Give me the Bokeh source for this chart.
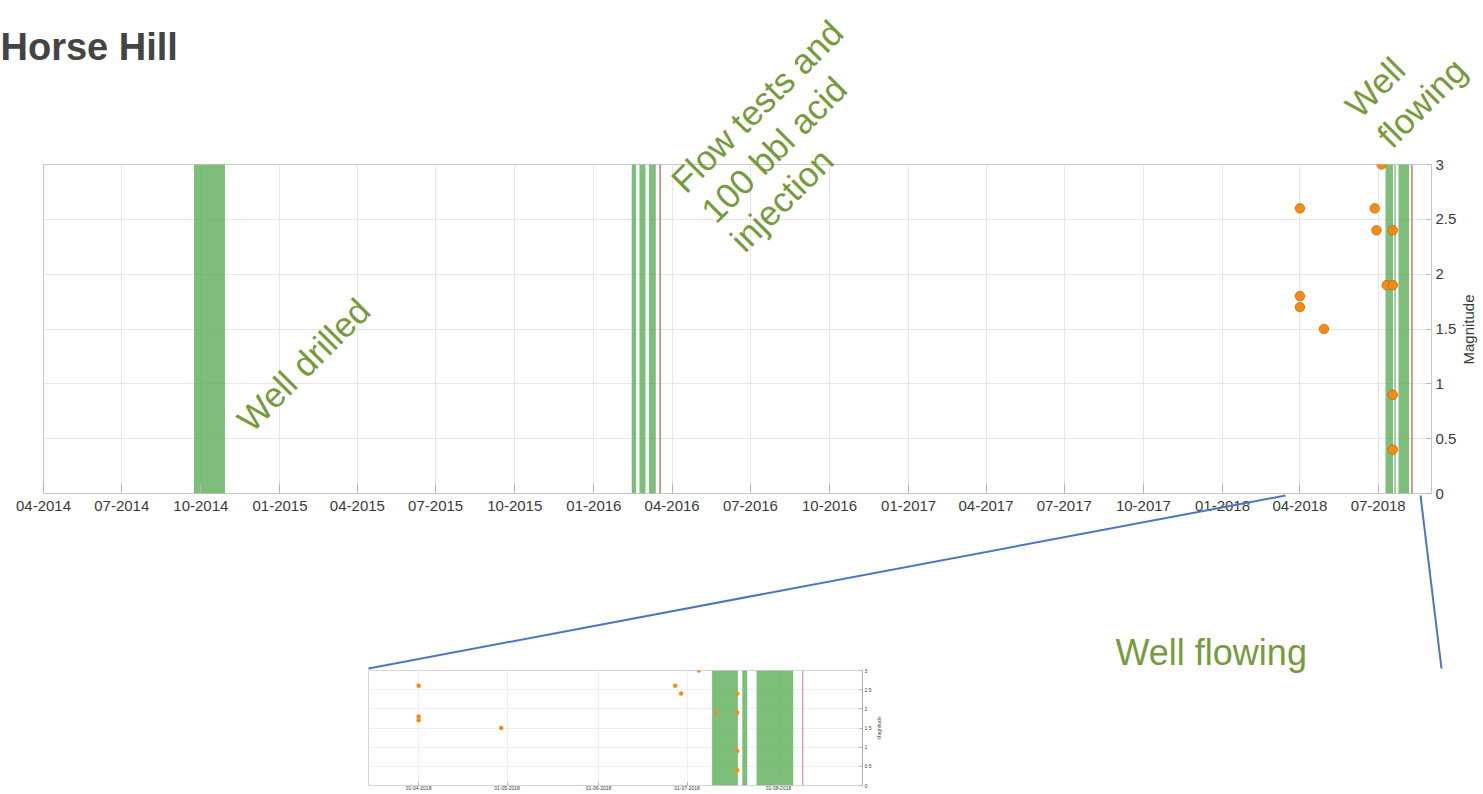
import math
import pandas as pd
from bokeh.plotting import figure
from bokeh.models import (FixedTicker, DatetimeTickFormatter, NumeralTickFormatter,
                          Range1d, ColumnDataSource, GridBox)
from bokeh.layouts import column
from bokeh.core.properties import value
from bokeh.embed import file_html
from bokeh.resources import INLINE

# ---------------- data ----------------
title_text = "Horse Hill"
activity_start = ["2014-09-23", "2016-02-14", "2016-02-23", "2016-03-05",
                  "2018-07-09 12:00", "2018-07-19 18:00", "2018-07-24 14:00"]
activity_end = ["2014-10-29", "2016-02-19", "2016-03-01", "2016-03-13",
                "2018-07-18 06:00", "2018-07-21 10:00", "2018-08-06"]
red_dates = ["2016-03-18", "2018-08-09 06:00"]
quake_dates = ["2018-04-01", "2018-04-01", "2018-04-01", "2018-04-29",
               "2018-06-27", "2018-06-29", "2018-07-05", "2018-07-11",
               "2018-07-18", "2018-07-18", "2018-07-18", "2018-07-18"]
quake_mag = [2.6, 1.8, 1.7, 1.5, 2.6, 2.4, 3.0, 1.9, 1.9, 2.4, 0.9, 0.4]
main_ticks = ["2014-04-01", "2014-07-01", "2014-10-01", "2015-01-01", "2015-04-01",
              "2015-07-01", "2015-10-01", "2016-01-01", "2016-04-01", "2016-07-01",
              "2016-10-01", "2017-01-01", "2017-04-01", "2017-07-01", "2017-10-01",
              "2018-01-01", "2018-04-01", "2018-07-01"]
inset_ticks = ["2018-04-01", "2018-05-01", "2018-06-01", "2018-07-01", "2018-08-01"]
mag_ticks = [0, 0.5, 1, 1.5, 2, 2.5, 3]
main_xlim = ["2014-04-01", "2018-09-01"]
inset_xlim = ["2018-03-15", "2018-08-29 12:00"]
mag_lim = [0, 3]
notes = ["Well drilled", "Flow tests and", "100 bbl acid", "injection", "Well", "flowing"]
note_flat = "Well flowing"
axis_title = "Magnitude"

GREEN_TXT = "#779a3c"
BAR = "#5aac56"
RED = "#d77a7c"
ORANGE = "#f98b10"
BLUE = "#4a78c0"
FONT = "Liberation Sans"
W, H = 1480, 792
MAIN_H = 668


def ms(s):
    return pd.Timestamp(s).timestamp() * 1000.0


def dts(lst):
    return [pd.Timestamp(s) for s in lst]


bars = ColumnDataSource(dict(left=dts(activity_start), right=dts(activity_end)))
reds = ColumnDataSource(dict(x=dts(red_dates)))
quakes = ColumnDataSource(dict(x=dts(quake_dates), y=quake_mag))


def style(p, ticks, fmt, fsize, tick_in_x, tick_in_y, standoff_x, standoff_y, grid_col):
    xa = p.xaxis[0]
    xa.ticker = FixedTicker(ticks=[ms(t) for t in ticks])
    xa.formatter = DatetimeTickFormatter(days=fmt, months=fmt, years=fmt, hours=fmt,
                                         minutes=fmt, seconds=fmt, milliseconds=fmt,
                                         microseconds=fmt, minsec=fmt, hourmin=fmt)
    xa.axis_line_color = None
    xa.major_tick_in = tick_in_x
    xa.major_tick_out = 0
    xa.major_tick_line_color = "#b5b5b5"
    xa.minor_tick_line_color = None
    xa.major_label_text_font = FONT
    xa.major_label_text_font_size = fsize
    xa.major_label_text_color = "#3a3a3a"
    xa.major_label_standoff = standoff_x
    ya = p.yaxis[0]
    ya.ticker = FixedTicker(ticks=mag_ticks)
    ya.formatter = NumeralTickFormatter(format="0.[0]")
    ya.axis_line_color = None
    ya.major_tick_in = tick_in_y
    ya.major_tick_out = 0
    ya.major_tick_line_color = "#b5b5b5"
    ya.minor_tick_line_color = None
    ya.major_label_text_font = FONT
    ya.major_label_text_font_size = fsize
    ya.major_label_text_color = "#3a3a3a"
    ya.major_label_standoff = standoff_y
    p.xgrid.grid_line_color = grid_col
    p.ygrid.grid_line_color = grid_col


def draw_data(p, size, lw_red):
    p.quad(left="left", right="right", bottom=mag_lim[0], top=mag_lim[1], source=bars,
           fill_color=BAR, fill_alpha=0.78, line_color=None)
    p.segment(x0="x", y0=mag_lim[0], x1="x", y1=mag_lim[1], source=reds,
              line_color=RED, line_width=lw_red)
    p.scatter(x="x", y="y", source=quakes, size=size, fill_color=ORANGE,
              line_color="#b86200", line_width=0.7 if size > 6 else 0)


# ---------------- main chart ----------------
main = figure(x_axis_type="datetime", y_axis_location="right",
              x_range=Range1d(ms(main_xlim[0]), ms(main_xlim[1])),
              y_range=Range1d(*mag_lim),
              frame_width=1388, frame_height=329,
              min_border_left=43, min_border_top=164, min_border_right=W - 43 - 1388,
              min_border_bottom=MAIN_H - 164 - 329,
              output_backend="svg", toolbar_location=None,
              background_fill_color="white", border_fill_color="white",
              outline_line_color="#c8c8c8")
style(main, main_ticks, "%m-%Y", "15px", 10, 5, 7, 4, "#e6e6e6")
draw_data(main, 9.5, 1.6)

# ---------------- inset chart ----------------
INSET_FH = 115
inset = figure(x_axis_type="datetime", y_axis_location="right",
               x_range=Range1d(ms(inset_xlim[0]), ms(inset_xlim[1])),
               y_range=Range1d(*mag_lim),
               frame_width=494, frame_height=INSET_FH,
               min_border_left=368, min_border_top=2, min_border_right=W - 368 - 494,
               min_border_bottom=0,
               output_backend="svg", toolbar_location=None,
               background_fill_color="white", border_fill_color="white",
               outline_line_color="#d5d5d5")
style(inset, inset_ticks, "%d-%m-%Y", "5px", 3, 3, 0, 2, "#eeeeee")
inset.yaxis[0].axis_line_color = "#aaaaaa"
draw_data(inset, 4.5, 1.0)

# ---------------- overlay for annotations (page pixel coordinates) ----------------
deco = figure(width=W, height=H, x_range=Range1d(0, W), y_range=Range1d(H, 0),
              x_axis_location=None, y_axis_location=None, min_border=0,
              output_backend="svg", toolbar_location=None,
              background_fill_alpha=0, border_fill_alpha=0, outline_line_color=None)
deco.grid.visible = False

deco.segment(x0=[1285, 1420], y0=[495, 495], x1=[368, 1441], y1=[668, 668],
             line_color=BLUE, line_width=2)


def txt(x, y, text, size=35, angle=0, color=GREEN_TXT, style_="normal",
        align="left", baseline="alphabetic"):
    if baseline == "alphabetic":
        a = math.radians(angle)
        x -= 0.3 * size * math.sin(a)
        y -= 0.3 * size * math.cos(a)
    deco.text(x=[x], y=[y], text=[text], angle=angle, angle_units="deg",
              text_font=value(FONT), text_font_size=value(f"{size}px"), text_color=color,
              text_font_style=style_, text_align=align, text_baseline=baseline)


txt(0, 58, title_text, size=38, color="#444444", style_="bold")
txt(250, 432, notes[0], angle=45)
txt(684, 193, notes[1], angle=45)
txt(714, 223, notes[2], angle=45)
txt(743, 252, notes[3], angle=45)
txt(1358, 118, notes[4], angle=45)
txt(1390, 148, notes[5], angle=45)
txt(1115, 663, note_flat, size=36)
txt(1468, 329, axis_title, size=15, angle=90, color="#3a3a3a",
    align="center", baseline="middle")
txt(878, 670 + INSET_FH / 2, axis_title, size=5, angle=90, color="#555555",
    align="center", baseline="middle")

layout = GridBox(children=[(main, 0, 0), (column(inset), 1, 0), (column(deco), 0, 0, 2, 1)],
                 spacing=0)

open("out.html", "w").write(file_html(layout, INLINE))
